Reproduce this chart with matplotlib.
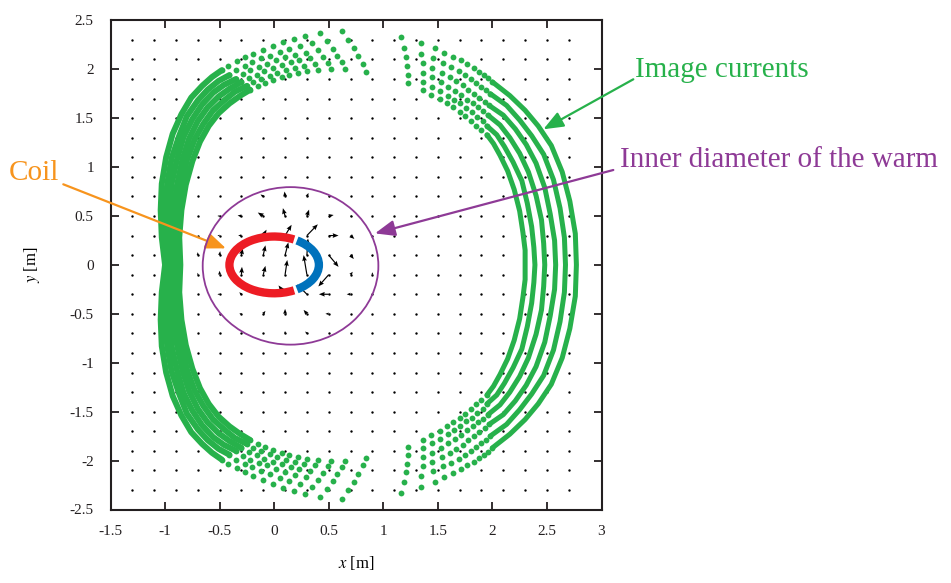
import numpy as np
import matplotlib
matplotlib.use('Agg')
import matplotlib.pyplot as plt
from matplotlib.patches import Arc, Circle

# axis ticks
x_ticks = [-1.5, -1, -0.5, 0, 0.5, 1, 1.5, 2, 2.5, 3]
x_tick_labels = ['-1.5', '-1', '-0.5', '0', '0.5', '1', '1.5', '2', '2.5', '3']
y_ticks = [-2.5, -2, -1.5, -1, -0.5, 0, 0.5, 1, 1.5, 2, 2.5]
y_tick_labels = ['-2.5', '-2', '-1.5', '-1', '-0.5', '0', '0.5', '1', '1.5', '2', '2.5']

# field vectors near the coil (tail position and components, m)
arrow_x = [-0.1, 0.1, 0.3, 0.5,
           -0.5, -0.3, -0.1, 0.1, 0.3, 0.5, 0.7,
           -0.5, -0.3, -0.1, 0.1, 0.3, 0.5, 0.7,
           -0.7, -0.5, -0.3, -0.1, 0.1, 0.3, 0.5, 0.7, 0.9,
           -0.7, -0.5, -0.3, -0.1, 0.1, 0.3, 0.5, 0.7, 0.9,
           -0.5, -0.3, -0.1, 0.1, 0.3, 0.5, 0.7,
           -0.3, -0.1, 0.1, 0.3, 0.5,
           0.1, 0.3]
arrow_y = [0.7] * 4 + [0.5] * 7 + [0.3] * 7 + [0.1] * 9 + [-0.1] * 9 + [-0.3] * 7 + [-0.5] * 5 + [-0.7] * 2
arrow_u = [-0.025, -0.005, 0.015, 0.025,
           -0.02, -0.035, -0.05, -0.02, 0.02, 0.045, 0.02,
           -0.02, -0.03, 0.03, 0.06, 0.10, 0.09, 0.035,
           0.0, 0.005, 0.01, 0.02, 0.03, 0.01, 0.09, 0.03, 0.0,
           0.0, 0.0, 0.005, 0.02, 0.02, -0.03, -0.095, 0.02, 0.0,
           -0.02, -0.02, 0.0, -0.06, -0.09, -0.09, -0.035,
           -0.02, 0.02, 0.0, -0.03, -0.03,
           0.0, -0.015]
arrow_v = [0.02, 0.05, 0.035, 0.0,
           0.0, 0.005, 0.035, 0.08, 0.065, 0.01, -0.005,
           0.0, 0.0, 0.06, 0.11, 0.115, 0.0, -0.035,
           0.03, 0.04, 0.07, 0.10, 0.13, 0.17, -0.12, -0.04, -0.02,
           0.02, 0.04, 0.08, 0.09, 0.15, 0.20, -0.12, 0.03, 0.025,
           0.0, 0.02, 0.06, 0.09, 0.10, 0.0, 0.0,
           0.0, 0.03, 0.05, 0.04, 0.0,
           0.025, 0.02]

# image currents of the blue part, one row per layer (outer to inner)
right_x = [
    [1.16, 1.35, 1.47, 1.56, 1.64, 1.71, 1.77, 1.83, 1.88, 1.92, 1.96, 2.00, 2.16, 2.30, 2.42, 2.54, 2.64, 2.71, 2.76, 2.77,
     2.76, 2.71, 2.64, 2.54, 2.42, 2.30, 2.16, 2.00, 1.96, 1.92, 1.88, 1.83, 1.77, 1.71, 1.64, 1.56, 1.47, 1.35, 1.16],
    [1.19, 1.35, 1.46, 1.55, 1.62, 1.69, 1.75, 1.80, 1.85, 1.90, 1.94, 1.98, 2.13, 2.25, 2.36, 2.47, 2.56, 2.62, 2.66, 2.67,
     2.66, 2.62, 2.56, 2.47, 2.36, 2.25, 2.13, 1.98, 1.94, 1.90, 1.85, 1.80, 1.75, 1.69, 1.62, 1.55, 1.46, 1.35, 1.19],
    [1.21, 1.36, 1.45, 1.54, 1.61, 1.67, 1.73, 1.78, 1.83, 1.88, 1.93, 1.97, 2.10, 2.21, 2.31, 2.40, 2.48, 2.53, 2.57, 2.58,
     2.57, 2.53, 2.48, 2.40, 2.31, 2.21, 2.10, 1.97, 1.93, 1.88, 1.83, 1.78, 1.73, 1.67, 1.61, 1.54, 1.45, 1.36, 1.21],
    [1.22, 1.36, 1.45, 1.53, 1.59, 1.66, 1.71, 1.77, 1.82, 1.87, 1.91, 1.96, 2.07, 2.16, 2.25, 2.33, 2.40, 2.45, 2.47, 2.48,
     2.47, 2.45, 2.40, 2.33, 2.25, 2.16, 2.07, 1.96, 1.91, 1.87, 1.82, 1.77, 1.71, 1.66, 1.59, 1.53, 1.45, 1.36, 1.22],
    [1.23, 1.36, 1.45, 1.52, 1.59, 1.65, 1.70, 1.76, 1.81, 1.86, 1.91, 1.95, 2.04, 2.11, 2.19, 2.27, 2.32, 2.36, 2.38, 2.39,
     2.38, 2.36, 2.32, 2.27, 2.19, 2.11, 2.04, 1.95, 1.91, 1.86, 1.81, 1.76, 1.70, 1.65, 1.59, 1.52, 1.45, 1.36, 1.23],
    [1.23, 1.36, 1.44, 1.52, 1.58, 1.64, 1.70, 1.75, 1.80, 1.85, 1.90, 1.95, 2.01, 2.07, 2.14, 2.20, 2.25, 2.28, 2.30, 2.30,
     2.30, 2.28, 2.25, 2.20, 2.14, 2.07, 2.01, 1.95, 1.90, 1.85, 1.80, 1.75, 1.70, 1.64, 1.58, 1.52, 1.44, 1.36, 1.23],
]
right_y = [
    [2.33, 2.27, 2.22, 2.17, 2.13, 2.09, 2.05, 2.01, 1.97, 1.94, 1.91, 1.87, 1.73, 1.58, 1.42, 1.22, 0.95, 0.65, 0.32, 0.00,
     -0.32, -0.65, -0.95, -1.22, -1.42, -1.58, -1.73, -1.87, -1.91, -1.94, -1.97, -2.01, -2.05, -2.09, -2.13, -2.17, -2.22, -2.27, -2.33],
    [2.22, 2.16, 2.11, 2.06, 2.02, 1.98, 1.94, 1.90, 1.86, 1.82, 1.79, 1.75, 1.63, 1.48, 1.32, 1.13, 0.87, 0.58, 0.28, 0.00,
     -0.28, -0.58, -0.87, -1.13, -1.32, -1.48, -1.63, -1.75, -1.79, -1.82, -1.86, -1.90, -1.94, -1.98, -2.02, -2.06, -2.11, -2.16, -2.22],
    [2.12, 2.06, 2.01, 1.96, 1.92, 1.88, 1.84, 1.79, 1.75, 1.71, 1.67, 1.63, 1.53, 1.39, 1.23, 1.04, 0.79, 0.52, 0.25, 0.00,
     -0.25, -0.52, -0.79, -1.04, -1.23, -1.39, -1.53, -1.63, -1.67, -1.71, -1.75, -1.79, -1.84, -1.88, -1.92, -1.96, -2.01, -2.06, -2.12],
    [2.03, 1.96, 1.92, 1.87, 1.82, 1.78, 1.74, 1.69, 1.65, 1.61, 1.57, 1.53, 1.43, 1.30, 1.14, 0.95, 0.71, 0.46, 0.22, 0.00,
     -0.22, -0.46, -0.71, -0.95, -1.14, -1.30, -1.43, -1.53, -1.57, -1.61, -1.65, -1.69, -1.74, -1.78, -1.82, -1.87, -1.92, -1.96, -2.03],
    [1.94, 1.87, 1.82, 1.78, 1.73, 1.69, 1.65, 1.60, 1.56, 1.51, 1.47, 1.42, 1.33, 1.21, 1.05, 0.86, 0.63, 0.39, 0.18, 0.00,
     -0.18, -0.39, -0.63, -0.86, -1.05, -1.21, -1.33, -1.42, -1.47, -1.51, -1.56, -1.60, -1.65, -1.69, -1.73, -1.78, -1.82, -1.87, -1.94],
    [1.86, 1.79, 1.74, 1.70, 1.65, 1.61, 1.56, 1.52, 1.47, 1.42, 1.38, 1.33, 1.24, 1.12, 0.96, 0.77, 0.55, 0.33, 0.15, 0.00,
     -0.15, -0.33, -0.55, -0.77, -0.96, -1.12, -1.24, -1.33, -1.38, -1.42, -1.47, -1.52, -1.56, -1.61, -1.65, -1.70, -1.74, -1.79, -1.86],
]

# image currents of the red part, one row per layer (outer to inner)
left_x = [
    [0.62, 0.42, 0.28, 0.18, 0.08, -0.01, -0.10, -0.19, -0.27, -0.34, -0.42, -0.48,
     -0.57, -0.66, -0.76, -0.85, -0.93, -0.99, -1.03, -1.04, -1.03, -1.00,
     -1.03, -1.04, -1.03, -0.99, -0.93, -0.85, -0.76, -0.66, -0.57,
     -0.48, -0.42, -0.34, -0.27, -0.19, -0.10, -0.01, 0.08, 0.18, 0.28, 0.42, 0.62],
    [0.68, 0.48, 0.35, 0.24, 0.14, 0.05, -0.04, -0.12, -0.20, -0.27, -0.35, -0.41,
     -0.51, -0.61, -0.70, -0.80, -0.87, -0.94, -0.98, -1.00, -1.00, -0.97,
     -1.00, -1.00, -0.98, -0.94, -0.87, -0.80, -0.70, -0.61, -0.51,
     -0.41, -0.35, -0.27, -0.20, -0.12, -0.04, 0.05, 0.14, 0.24, 0.35, 0.48, 0.68],
    [0.73, 0.54, 0.40, 0.29, 0.19, 0.10, 0.02, -0.07, -0.14, -0.22, -0.29, -0.35,
     -0.46, -0.56, -0.66, -0.75, -0.83, -0.89, -0.94, -0.96, -0.96, -0.94,
     -0.96, -0.96, -0.94, -0.89, -0.83, -0.75, -0.66, -0.56, -0.46,
     -0.35, -0.29, -0.22, -0.14, -0.07, 0.02, 0.10, 0.19, 0.29, 0.40, 0.54, 0.73],
    [0.77, 0.58, 0.45, 0.33, 0.23, 0.15, 0.07, -0.01, -0.09, -0.16, -0.23, -0.30,
     -0.41, -0.51, -0.61, -0.70, -0.78, -0.84, -0.89, -0.92, -0.93, -0.92,
     -0.93, -0.92, -0.89, -0.84, -0.78, -0.70, -0.61, -0.51, -0.41,
     -0.30, -0.23, -0.16, -0.09, -0.01, 0.07, 0.15, 0.23, 0.33, 0.45, 0.58, 0.77],
    [0.81, 0.62, 0.49, 0.37, 0.27, 0.19, 0.11, 0.03, -0.04, -0.12, -0.19, -0.25,
     -0.36, -0.46, -0.56, -0.65, -0.73, -0.80, -0.85, -0.89, -0.90, -0.89,
     -0.90, -0.89, -0.85, -0.80, -0.73, -0.65, -0.56, -0.46, -0.36,
     -0.25, -0.19, -0.12, -0.04, 0.03, 0.11, 0.19, 0.27, 0.37, 0.49, 0.62, 0.81],
    [0.84, 0.65, 0.52, 0.40, 0.30, 0.22, 0.14, 0.07, -0.01, -0.08, -0.15, -0.22,
     -0.31, -0.41, -0.51, -0.60, -0.68, -0.75, -0.81, -0.85, -0.87, -0.86,
     -0.87, -0.85, -0.81, -0.75, -0.68, -0.60, -0.51, -0.41, -0.31,
     -0.22, -0.15, -0.08, -0.01, 0.07, 0.14, 0.22, 0.30, 0.40, 0.52, 0.65, 0.84],
]
left_y = [
    [2.39, 2.37, 2.34, 2.31, 2.28, 2.24, 2.20, 2.16, 2.12, 2.08, 2.03, 1.99,
     1.92, 1.83, 1.71, 1.54, 1.34, 1.10, 0.83, 0.56, 0.28, 0.00,
     -0.28, -0.56, -0.83, -1.10, -1.34, -1.54, -1.71, -1.83, -1.92,
     -1.99, -2.03, -2.08, -2.12, -2.16, -2.20, -2.24, -2.28, -2.31, -2.34, -2.37, -2.39],
    [2.30, 2.29, 2.27, 2.24, 2.21, 2.18, 2.14, 2.11, 2.07, 2.03, 1.99, 1.94,
     1.88, 1.79, 1.68, 1.52, 1.32, 1.09, 0.83, 0.56, 0.28, 0.00,
     -0.28, -0.56, -0.83, -1.09, -1.32, -1.52, -1.68, -1.79, -1.88,
     -1.94, -1.99, -2.03, -2.07, -2.11, -2.14, -2.18, -2.21, -2.24, -2.27, -2.29, -2.30],
    [2.22, 2.21, 2.20, 2.17, 2.15, 2.12, 2.09, 2.05, 2.02, 1.99, 1.95, 1.90,
     1.84, 1.76, 1.64, 1.49, 1.31, 1.08, 0.83, 0.56, 0.28, 0.00,
     -0.28, -0.56, -0.83, -1.08, -1.31, -1.49, -1.64, -1.76, -1.84,
     -1.90, -1.95, -1.99, -2.02, -2.05, -2.09, -2.12, -2.15, -2.17, -2.20, -2.21, -2.22],
    [2.14, 2.14, 2.13, 2.11, 2.09, 2.07, 2.04, 2.01, 1.98, 1.94, 1.91, 1.87,
     1.80, 1.72, 1.61, 1.47, 1.29, 1.08, 0.82, 0.56, 0.28, 0.00,
     -0.28, -0.56, -0.82, -1.08, -1.29, -1.47, -1.61, -1.72, -1.80,
     -1.87, -1.91, -1.94, -1.98, -2.01, -2.04, -2.07, -2.09, -2.11, -2.13, -2.14, -2.14],
    [2.05, 2.07, 2.06, 2.05, 2.03, 2.01, 1.99, 1.96, 1.93, 1.90, 1.87, 1.83,
     1.77, 1.68, 1.58, 1.44, 1.28, 1.07, 0.82, 0.56, 0.28, 0.00,
     -0.28, -0.56, -0.82, -1.07, -1.28, -1.44, -1.58, -1.68, -1.77,
     -1.83, -1.87, -1.90, -1.93, -1.96, -1.99, -2.01, -2.03, -2.05, -2.06, -2.07, -2.05],
    [1.97, 2.00, 2.00, 1.99, 1.98, 1.96, 1.94, 1.92, 1.89, 1.86, 1.83, 1.79,
     1.73, 1.65, 1.55, 1.42, 1.26, 1.06, 0.82, 0.56, 0.28, 0.00,
     -0.28, -0.56, -0.82, -1.06, -1.26, -1.42, -1.55, -1.65, -1.73,
     -1.79, -1.83, -1.86, -1.89, -1.92, -1.94, -1.96, -1.98, -1.99, -2.00, -2.00, -1.97],
]
n_sparse = 12  # points at each end drawn as separate dots

plt.rcParams['font.family'] = ['Liberation Serif', 'DejaVu Serif']
plt.rcParams['mathtext.fontset'] = 'stix'
plt.rcParams['axes.unicode_minus'] = False

green = '#27B14B'
red = '#ED1C24'
blue = '#0072BC'
purple = '#8E3A96'
orange = '#F7941D'

W, H = 951, 583
fig = plt.figure(figsize=(W / 100, H / 100), dpi=100)
ax = fig.add_axes([110.5 / W, 1 - 509.5 / H, 491 / W, 489.2 / H])

# sampling grid of the field plot
gx, gy = np.meshgrid(np.arange(-1.3, 2.71, 0.2), np.arange(-2.3, 2.31, 0.2))
ax.scatter(gx, gy, s=3, c='k', lw=0, zorder=1)
ax.quiver(arrow_x, arrow_y, arrow_u, arrow_v, angles='xy', scale_units='xy', scale=1,
          color='k', width=0.0024, headwidth=4, headlength=5, headaxislength=4.5, zorder=2)

for xs, ys, lw in [(right_x, right_y, 3.6), (left_x, left_y, 4.3)]:
    for x, y in zip(xs, ys):
        x = np.array(x); y = np.array(y)
        k = n_sparse - 1
        ax.plot(x[k:-k], y[k:-k], color=green, lw=lw, solid_capstyle='round',
                solid_joinstyle='round', zorder=3)
        ax.plot(np.r_[x[:n_sparse], x[-n_sparse:]], np.r_[y[:n_sparse], y[-n_sparse:]],
                'o', color=green, ms=4.2, mew=0, zorder=3)

# coil and warm bore
ax.add_patch(Arc((0, 0), 0.82, 0.58, theta1=55, theta2=305, color=red, lw=6, zorder=4))
ax.add_patch(Arc((0, 0), 0.82, 0.58, theta1=-50, theta2=50, color=blue, lw=6, zorder=4))
ax.add_patch(Circle((0.15, -0.01), 0.805, fill=False, ec=purple, lw=1.3, zorder=4))

ax.set_xlim(-1.5, 3)
ax.set_ylim(-2.5, 2.5)
ax.set_xticks(x_ticks)
ax.set_xticklabels(x_tick_labels)
ax.set_yticks(y_ticks)
ax.set_yticklabels(y_tick_labels)
ax.tick_params(direction='in', top=True, right=True, length=6, width=1.3, labelsize=11, colors='#231F20')
ax.tick_params(axis='x', pad=11)
ax.tick_params(axis='y', pad=12)
for s in ax.spines.values():
    s.set_linewidth(1.5)
    s.set_color('#231F20')

ax.set_xlabel('$x$ [m]', fontsize=12, va='center')
ax.xaxis.set_label_coords(0.5, -0.109)
ax.set_ylabel('$y$ [m]', fontsize=12, va='center')
ax.yaxis.set_label_coords(-0.160, 0.5)

# callouts
fig.text(9 / W, 1 - 180 / H, 'Coil', color=orange, fontsize=21, va='baseline')
fig.text(635 / W, 1 - 76.7 / H, 'Image currents', color=green, fontsize=21, va='baseline')
fig.text(620 / W, 1 - 166.7 / H, 'Inner diameter of the warm', color=purple, fontsize=21, va='baseline')

for tip, start, c in [((-0.442, 0.169), (63.3, 184.3), orange),
                      ((2.467, 1.386), (633.3, 79.3), green),
                      ((0.924, 0.322), (613.3, 170.0), purple)]:
    ax.annotate('', xy=tip, xycoords='data', xytext=(start[0] / W, 1 - start[1] / H),
                textcoords='figure fraction', annotation_clip=False,
                arrowprops=dict(arrowstyle='-|>,head_length=0.55,head_width=0.22', color=c,
                                lw=1.6, mutation_scale=22, shrinkA=0, shrinkB=0))

fig.savefig('out.png')
